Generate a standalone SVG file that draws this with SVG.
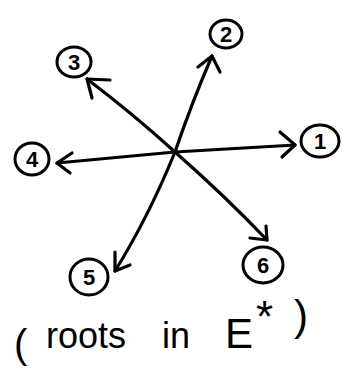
<svg xmlns="http://www.w3.org/2000/svg" width="352" height="370" viewBox="0 0 352 370">
<style>
.ln{fill:none;stroke:#000;stroke-width:3.2;stroke-linecap:round;stroke-linejoin:round}
.c{fill:none;stroke:#000;stroke-width:3}
.d{font-family:"Liberation Sans",Arial,sans-serif;font-size:22px;font-weight:bold;text-anchor:middle;fill:#000}
.t{font-family:"Liberation Sans",Arial,sans-serif;font-size:36px;fill:#000}
</style>
<rect width="352" height="370" fill="#fff"/>
<g id="connectors">
<path class="ln" d="M57,163 L175,152 L295,145"/>
<path class="ln" d="M280,132 L295,145 L282,157"/>
<path class="ln" d="M72,153 L57,163 L70,173"/>
<path class="ln" d="M212,56 Q192,102 175,152 Q148,218 115,271"/>
<path class="ln" d="M198,67 L212,56 L220,72"/>
<path class="ln" d="M115,252 L115,271 L130,265"/>
<path class="ln" d="M87,79 Q132,113 175,152 Q225,196 267,240"/>
<path class="ln" d="M110,80 L87,79 L92,98"/>
<path class="ln" d="M266,226 L267,240 L250,238"/>
</g>
<g id="n1"><ellipse class="c" cx="320" cy="141" rx="19" ry="16"/><text class="d" x="320" y="149">1</text></g>
<g id="n2"><ellipse class="c" cx="226" cy="34" rx="16" ry="14"/><text class="d" x="226" y="42">2</text></g>
<g id="n3"><ellipse class="c" cx="74" cy="62" rx="17" ry="15"/><text class="d" x="74" y="70">3</text></g>
<g id="n4"><ellipse class="c" cx="32" cy="159" rx="17" ry="16"/><text class="d" x="32" y="167">4</text></g>
<g id="n5"><ellipse class="c" cx="89" cy="277" rx="19" ry="18"/><text class="d" x="89" y="285">5</text></g>
<g id="n6"><ellipse class="c" cx="263" cy="265" rx="20" ry="18"/><text class="d" x="263" y="273">6</text></g>
<text class="t" y="348"><tspan x="14" font-size="40" y="358">(</tspan><tspan x="46" y="348">roots</tspan><tspan x="162">in</tspan><tspan x="225" font-size="42">E</tspan><tspan x="256" y="332" font-size="44">*</tspan><tspan x="294" y="330" font-size="42">)</tspan></text>
</svg>
